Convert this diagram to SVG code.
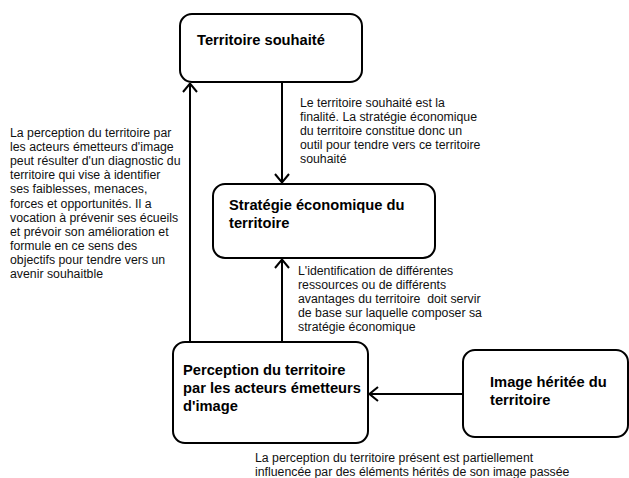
<svg xmlns="http://www.w3.org/2000/svg" width="629" height="478" viewBox="0 0 629 478">
<style>
.box{fill:#fff;stroke:#000;stroke-width:2}
.t{font-family:"Liberation Sans",Arial,sans-serif;font-size:14.7px;font-weight:bold;fill:#000}
.n{font-family:"Liberation Sans",Arial,sans-serif;font-size:12.3px;fill:#111}
.c{fill:none;stroke:#000;stroke-width:2}
</style>
<defs>
<marker id="ah" viewBox="0 0 10 16" refX="10" refY="8" markerWidth="10" markerHeight="16" markerUnits="userSpaceOnUse" orient="auto">
<path d="M1,1 L9.5,8 L1,15" fill="none" stroke="#000" stroke-width="2"/>
</marker>
</defs>
<rect width="629" height="478" fill="#fff"/>
<g id="connectors">
<line class="c" x1="190" y1="342" x2="190" y2="83" marker-end="url(#ah)"/>
<line class="c" x1="282" y1="82" x2="282" y2="183" marker-end="url(#ah)"/>
<line class="c" x1="282" y1="342" x2="282" y2="259" marker-end="url(#ah)"/>
<line class="c" x1="463" y1="394" x2="369" y2="394" marker-end="url(#ah)"/>
</g>
<g id="territoire-souhaite">
<rect class="box" x="180" y="14" width="182" height="68" rx="12"/>
<text class="t" x="197" y="45">Territoire souhaité</text>
</g>
<g id="strategie">
<rect class="box" x="213" y="184" width="222" height="74" rx="12"/>
<text class="t" x="229" y="210">Stratégie économique du</text>
<text class="t" x="229" y="228">territoire</text>
</g>
<g id="perception">
<rect class="box" x="173" y="342" width="195" height="101" rx="12"/>
<text class="t" x="183" y="375">Perception du territoire</text>
<text class="t" x="183" y="393">par les acteurs émetteurs</text>
<text class="t" x="183" y="411">d'image</text>
</g>
<g id="image-heritee">
<rect class="box" x="463" y="350" width="165" height="87" rx="12"/>
<text class="t" x="490" y="387">Image héritée du</text>
<text class="t" x="490" y="405">territoire</text>
</g>
<g id="note-left">
<text class="n" x="10" y="137">La perception du territoire par</text>
<text class="n" x="10" y="151.1">les acteurs émetteurs d'image</text>
<text class="n" x="10" y="165.2">peut résulter d'un diagnostic du</text>
<text class="n" x="10" y="179.3">territoire qui vise à identifier</text>
<text class="n" x="10" y="193.4">ses faiblesses, menaces,</text>
<text class="n" x="10" y="207.5">forces et opportunités. Il a</text>
<text class="n" x="10" y="221.6">vocation à prévenir ses écueils</text>
<text class="n" x="10" y="235.7">et prévoir son amélioration et</text>
<text class="n" x="10" y="249.8">formule en ce sens des</text>
<text class="n" x="10" y="263.9">objectifs pour tendre vers un</text>
<text class="n" x="10" y="278">avenir souhaitble</text>
</g>
<g id="note-top">
<text class="n" x="300" y="107">Le territoire souhaité est la</text>
<text class="n" x="300" y="121">finalité. La stratégie économique</text>
<text class="n" x="300" y="135">du territoire constitue donc un</text>
<text class="n" x="300" y="149">outil pour tendre vers ce territoire</text>
<text class="n" x="300" y="163">souhaité</text>
</g>
<g id="note-mid">
<text class="n" x="298" y="275">L'identification de différentes</text>
<text class="n" x="298" y="289">ressources ou de différents</text>
<text class="n" x="298" y="303">avantages du territoire &#160;doit servir</text>
<text class="n" x="298" y="317">de base sur laquelle composer sa</text>
<text class="n" x="298" y="331">stratégie économique</text>
</g>
<g id="note-bottom">
<text class="n" x="255" y="462">La perception du territoire présent est partiellement</text>
<text class="n" x="255" y="476">influencée par des éléments hérités de son image passée</text>
</g>
</svg>
